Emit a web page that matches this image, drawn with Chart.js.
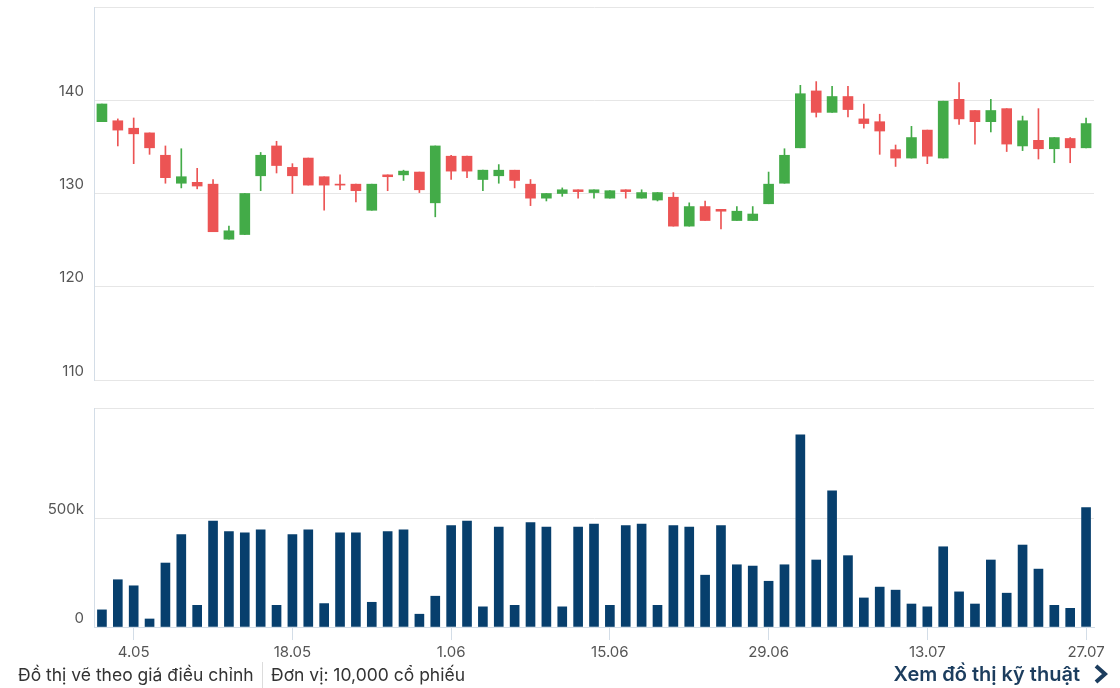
<!DOCTYPE html>
<html>
<head>
<meta charset="utf-8">
<script src="https://cdn.jsdelivr.net/npm/chart.js@4.4.1/dist/chart.umd.min.js"></script>
<style>
    body { margin: 0; width: 1120px; height: 688px; background: #fff; font-family: Inter, sans-serif; position: relative; overflow: hidden; }
    #priceBox { position: absolute; left: 0; top: -12px; width: 1120px; height: 411px; }
    #volBox { position: absolute; left: 0; top: 389px; width: 1120px; height: 274px; }
    .note { position: absolute; top: 662px; font-size: 17.5px; color: #333; line-height: 26px; }
    .sep { position: absolute; left: 262px; top: 662px; width: 1px; height: 26px; background: #dcdcdc; }
    .more { position: absolute; right: 40px; top: 659px; font-size: 20px; font-weight: 600; color: #1c3d5e; line-height: 30px; }
    .chev { position: absolute; left: 1093px; top: 664px; }
</style>
</head>
<body>
<div id="priceBox"><canvas id="priceChart"></canvas></div>
<div id="volBox"><canvas id="volChart"></canvas></div>
<div class="note" style="left:18px">Đồ thị vẽ theo giá điều chỉnh</div>
<div class="sep"></div>
<div class="note" style="left:271px">Đơn vị: 10,000 cổ phiếu</div>
<div class="more">Xem đồ thị kỹ thuật</div>
<svg class="chev" width="16" height="20" viewBox="0 0 16 20"><path d="M3 2 L12 10 L3 18" fill="none" stroke="#1c3d5e" stroke-width="4" stroke-linejoin="miter"/></svg>

<script>
// --- Data ---
const dates = [
    '28.04', '29.04',
    '4.05', '5.05', '6.05', '7.05', '8.05', '11.05', '12.05', '13.05', '14.05', '15.05',
    '18.05', '19.05', '20.05', '21.05', '22.05', '25.05', '26.05', '27.05', '28.05', '29.05',
    '1.06', '2.06', '3.06', '4.06', '5.06', '8.06', '9.06', '10.06', '11.06', '12.06',
    '15.06', '16.06', '17.06', '18.06', '19.06', '22.06', '23.06', '24.06', '25.06', '26.06',
    '29.06', '30.06', '1.07', '2.07', '3.07', '6.07', '7.07', '8.07', '9.07', '10.07',
    '13.07', '14.07', '15.07', '16.07', '17.07', '20.07', '21.07', '22.07', '23.07', '24.07',
    '27.07'
];
const shownTicks = ['4.05', '18.05', '1.06', '15.06', '29.06', '13.07', '27.07'];
const volumeTicks = [0, 500000, 1010000];

const opens = [
    137.7, 137.8, 137.0, 136.5, 134.1, 131.1, 131.2, 131.0, 125.1, 125.6,
    131.9, 135.1, 132.8, 133.8, 131.8, 131.0, 131.0, 128.2, 132.0, 132.0,
    132.3, 129.0, 134.0, 134.0, 131.5, 131.9, 132.5, 131.0, 129.5, 130.0,
    130.4, 130.1, 129.5, 130.4, 129.5, 129.3, 129.6, 126.5, 128.6, 128.3,
    127.1, 127.1, 128.9, 131.1, 134.9, 141.0, 138.7, 140.4, 138.0, 137.7,
    134.7, 133.8, 136.8, 133.8, 140.1, 138.9, 137.7, 139.1, 135.1, 135.7,
    134.8, 135.9, 134.9
];
const closes = [
    139.6, 136.8, 136.4, 134.9, 131.7, 131.8, 130.8, 125.9, 126.0, 130.0,
    134.1, 133.0, 131.9, 130.9, 130.9, 130.9, 130.3, 131.0, 131.8, 132.4,
    130.4, 135.1, 132.4, 132.4, 132.5, 132.5, 131.4, 129.5, 130.0, 130.4,
    130.2, 130.4, 130.3, 130.2, 130.1, 130.1, 126.5, 128.6, 127.1, 128.1,
    128.1, 127.8, 131.0, 134.1, 140.7, 138.7, 140.4, 139.0, 137.5, 136.7,
    133.8, 136.0, 134.0, 139.9, 138.0, 137.7, 138.9, 135.3, 137.8, 134.8,
    136.0, 134.9, 137.5
];
const highs = [
    139.6, 138.0, 138.1, 136.5, 135.1, 134.8, 132.7, 131.5, 126.5, 130.0,
    134.4, 135.6, 133.2, 133.8, 131.8, 132.0, 131.0, 131.0, 132.0, 132.5,
    132.3, 135.1, 134.1, 134.0, 132.5, 133.1, 132.5, 131.5, 130.0, 130.6,
    130.4, 130.4, 130.3, 130.4, 130.4, 130.1, 130.1, 129.0, 129.2, 128.3,
    128.6, 128.6, 132.3, 134.8, 141.6, 142.0, 141.5, 141.5, 139.6, 138.5,
    135.2, 137.2, 136.8, 139.9, 141.9, 138.9, 140.1, 139.1, 138.3, 139.1,
    136.0, 136.0, 138.1
];
const lows = [
    137.7, 135.1, 133.2, 134.2, 131.1, 130.6, 130.5, 125.9, 125.1, 125.6,
    130.3, 132.2, 130.0, 130.9, 128.2, 130.4, 129.1, 128.2, 130.3, 131.4,
    130.1, 127.5, 131.5, 131.7, 130.3, 131.1, 130.6, 128.7, 129.2, 129.7,
    129.5, 129.5, 129.5, 129.5, 129.5, 129.2, 126.5, 126.5, 127.1, 126.2,
    127.1, 127.1, 128.9, 131.1, 134.9, 138.2, 138.7, 138.2, 137.0, 134.2,
    132.9, 133.8, 133.2, 133.8, 137.4, 135.3, 136.6, 134.5, 134.6, 133.7,
    133.3, 133.3, 134.9
];
const volumes = [
    79000, 218000, 190000, 37000, 295000, 426000, 100000, 489000, 440000, 434000,
    448000, 100000, 426000, 448000, 108000, 434000, 434000, 114000, 440000, 448000,
    59000, 142000, 468000, 489000, 93000, 461000, 100000, 481000, 461000, 93000,
    461000, 475000, 100000, 468000, 475000, 100000, 468000, 461000, 239000, 468000,
    287000, 281000, 211000, 287000, 886000, 309000, 628000, 329000, 134000, 184000,
    170000, 106000, 93000, 370000, 162000, 106000, 309000, 156000, 378000, 267000,
    100000, 86000, 551000
];

const GREEN = '#43ab48';
const RED = '#ec5454';
const VOL = '#073f6d';
const GRID = '#e6e6e6';
const AXIS = '#d3dde7';
const LABEL_FONT = { family: 'Inter', size: 15 };

document.addEventListener('DOMContentLoaded', () => {
    initPriceChart();
    initVolumeChart();
});

// --- Candlesticks (floating bars: wick + body) ---
function initPriceChart() {
    const colors = opens.map((o, i) => closes[i] >= o ? GREEN : RED);

    new Chart(document.getElementById('priceChart'), {
        type: 'bar',
        data: {
            labels: dates,
            datasets: [
                {
                    data: lows.map((l, i) => [l, highs[i]]),
                    backgroundColor: colors,
                    barThickness: 1,
                    grouped: false,
                    order: 2
                },
                {
                    data: opens.map((o, i) => [o, closes[i]]),
                    backgroundColor: colors,
                    barThickness: 10,
                    minBarLength: 1,
                    grouped: false,
                    order: 1
                }
            ]
        },
        options: {
            responsive: true,
            maintainAspectRatio: false,
            animation: false,
            layout: { padding: { top: 7, right: 26, bottom: 10, left: 0 } },
            plugins: { legend: { display: false }, tooltip: { enabled: false } },
            scales: {
                x: { display: false },
                y: {
                    min: 110,
                    max: 150,
                    afterFit: (scale) => { scale.width = 94; },
                    border: { display: true, color: AXIS },
                    grid: { color: GRID, drawTicks: false },
                    ticks: {
                        stepSize: 10,
                        padding: 10,
                        labelOffset: -9,
                        color: '#555',
                        font: LABEL_FONT,
                        callback: (v) => v === 150 ? '' : v
                    }
                }
            }
        }
    });
}

// --- Volume ---
function initVolumeChart() {
    new Chart(document.getElementById('volChart'), {
        type: 'bar',
        data: {
            labels: dates,
            datasets: [{
                data: volumes,
                backgroundColor: VOL,
                barThickness: 9
            }]
        },
        options: {
            responsive: true,
            maintainAspectRatio: false,
            animation: false,
            layout: { padding: { top: 2, right: 26, bottom: 0, left: 0 } },
            plugins: { legend: { display: false }, tooltip: { enabled: false } },
            scales: {
                x: {
                    afterFit: (scale) => { scale.height = 36; },
                    border: { display: true, color: AXIS },
                    grid: {
                        offset: false,
                        drawOnChartArea: false,
                        tickLength: 13,
                        color: (ctx) => shownTicks.includes(dates[ctx.index]) ? AXIS : 'transparent'
                    },
                    ticks: {
                        autoSkip: false,
                        maxRotation: 0,
                        padding: 3,
                        color: '#555',
                        font: LABEL_FONT,
                        callback: (v, i) => shownTicks.includes(dates[i]) ? dates[i] : ''
                    }
                },
                y: {
                    min: 0,
                    max: volumeTicks[2],
                    afterBuildTicks: (scale) => { scale.ticks = volumeTicks.map(v => ({ value: v })); },
                    afterFit: (scale) => { scale.width = 94; },
                    border: { display: true, color: AXIS },
                    grid: { color: GRID, drawTicks: false },
                    ticks: {
                        padding: 10,
                        labelOffset: -9,
                        color: '#555',
                        font: LABEL_FONT,
                        callback: (v) => v === 0 ? '0' : (v === 500000 ? '500k' : '')
                    }
                }
            }
        }
    });
}
</script>
</body>
</html>
